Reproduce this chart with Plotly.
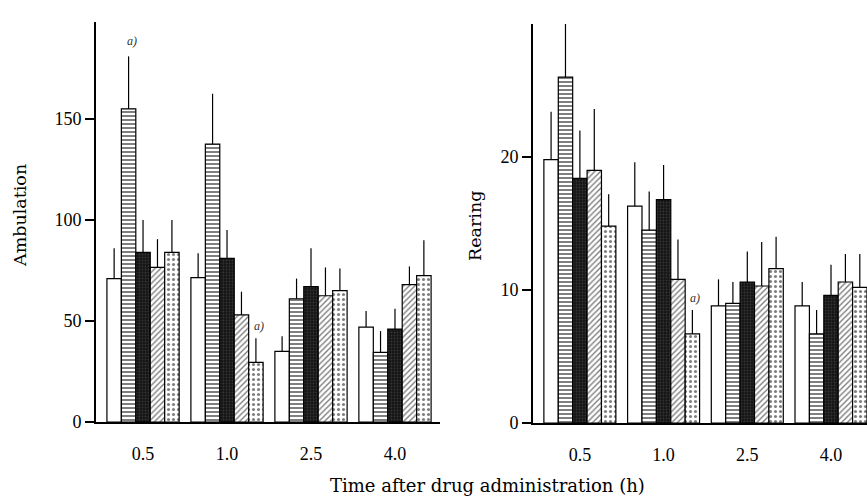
import plotly.graph_objects as go

# ---------------- data ----------------
times = ["0.5", "1.0", "2.5", "4.0"]
groups = ["Group 1", "Group 2", "Group 3", "Group 4", "Group 5"]

amb_g1 = [71, 71.5, 35, 47]
amb_g2 = [155, 137.5, 61, 34.5]
amb_g3 = [84, 81, 67, 46]
amb_g4 = [76.5, 53, 62.5, 68]
amb_g5 = [84, 29.5, 65, 72.5]
amb_e1 = [15, 12, 7.5, 8]
amb_e2 = [26, 25, 10, 10.5]
amb_e3 = [16, 14, 19, 10]
amb_e4 = [14, 11.5, 14, 9]
amb_e5 = [16, 12, 11, 17.5]

rear_g1 = [19.8, 16.3, 8.8, 8.8]
rear_g2 = [26.0, 14.5, 9.0, 6.7]
rear_g3 = [18.4, 16.8, 10.6, 9.6]
rear_g4 = [19.0, 10.8, 10.3, 10.6]
rear_g5 = [14.8, 6.7, 11.6, 10.2]
rear_e1 = [3.6, 3.3, 2.0, 1.8]
rear_e2 = [4.8, 2.9, 1.6, 1.8]
rear_e3 = [3.6, 2.6, 2.3, 2.3]
rear_e4 = [4.6, 3.0, 3.3, 2.1]
rear_e5 = [2.4, 1.8, 2.4, 2.5]

amb_ticks = [0, 50, 100, 150]
rear_ticks = [0, 10, 20]

# ---------------- styles ----------------
W, H = 867, 499
FONT = "Liberation Serif"
TFONT = "DejaVu Serif"
patterns = [
    dict(shape="", bgcolor="white"),
    dict(shape="-", fgcolor="black", bgcolor="white", size=4, solidity=0.5),
    dict(shape=".", fgcolor="#555555", bgcolor="#151515", size=3, solidity=0.3),
    dict(shape="/", fgcolor="black", bgcolor="white", size=4, solidity=0.35),
    dict(shape=".", fgcolor="black", bgcolor="white", size=5, solidity=0.3),
]
colors = ["white", "white", "#151515", "white", "white"]

amb_vals = [amb_g1, amb_g2, amb_g3, amb_g4, amb_g5]
amb_errs = [amb_e1, amb_e2, amb_e3, amb_e4, amb_e5]
rear_vals = [rear_g1, rear_g2, rear_g3, rear_g4, rear_g5]
rear_errs = [rear_e1, rear_e2, rear_e3, rear_e4, rear_e5]


def px_x(x):
    return x / W


def px_y(y):
    return (H - y) / H


fig = go.Figure()


def add_panel(vals, errs, xa, ya):
    for i, (v, e) in enumerate(zip(vals, errs)):
        fig.add_trace(go.Bar(
            x=times, y=v, name=groups[i], xaxis=xa, yaxis=ya,
            marker=dict(color=colors[i], line=dict(color="black", width=1.2),
                        pattern=patterns[i]),
            error_y=dict(type="data", array=e, arrayminus=[0] * len(e),
                         symmetric=False, color="black", thickness=1.2, width=0),
            showlegend=False,
        ))


add_panel(amb_vals, amb_errs, "x", "y")
add_panel(rear_vals, rear_errs, "x2", "y2")

BARGAP = 0.14
bw = (1 - BARGAP) / 5


def offset(i):
    return (i - 2) * bw


ann = []


def sig(panel_vals, panel_errs, series, cat, xref, yref, shift):
    ann.append(dict(
        x=cat + offset(series), y=panel_vals[series][cat] + panel_errs[series][cat],
        xref=xref, yref=yref, text="a)", showarrow=False, yshift=shift,
        xshift=3, xanchor="center", yanchor="middle",
        font=dict(family=FONT, size=12, color="#333", style="italic"),
    ))


sig(amb_vals, amb_errs, 1, 0, "x", "y", 15)
sig(amb_vals, amb_errs, 4, 1, "x", "y", 12)
sig(rear_vals, rear_errs, 4, 1, "x2", "y2", 12)

ann.append(dict(text="Time after drug administration (h)",
                x=px_x(487), y=px_y(485), xref="paper", yref="paper",
                xanchor="center", yanchor="middle",
                showarrow=False, font=dict(family=TFONT, size=18, color="black")))
ann.append(dict(text="Ambulation", x=px_x(20), y=px_y(216), xref="paper",
                yref="paper", textangle=-90, showarrow=False,
                xanchor="center", yanchor="middle",
                font=dict(family=TFONT, size=17.5, color="black")))
ann.append(dict(text="Rearing", x=px_x(475), y=px_y(226), xref="paper",
                yref="paper", textangle=-90, showarrow=False,
                xanchor="center", yanchor="middle",
                font=dict(family=TFONT, size=17.5, color="black")))

xcommon = dict(type="category", showline=True, linecolor="black", linewidth=2,
               ticks="outside", ticklen=14, tickcolor="rgba(0,0,0,0)",
               showgrid=False, zeroline=False, automargin=False,
               tickfont=dict(family=FONT, size=18, color="black"))
ycommon = dict(showline=True, linecolor="black", linewidth=2, ticks="outside",
               ticklen=9, tickwidth=1.5, tickcolor="black", showgrid=False,
               zeroline=False, automargin=False,
               tickfont=dict(family=FONT, size=18, color="black"))

fig.update_layout(
    width=W, height=H,
    margin=dict(l=0, r=0, t=0, b=0),
    paper_bgcolor="white", plot_bgcolor="white",
    barmode="group", bargap=BARGAP, bargroupgap=0,
    xaxis=dict(domain=[px_x(96), px_x(440)], range=[-0.56, 3.536],
               anchor="y", **xcommon),
    yaxis=dict(domain=[px_y(422), px_y(22)], range=[0, 198],
               tickvals=amb_ticks, anchor="x", **ycommon),
    xaxis2=dict(domain=[px_x(533), 1.0], range=[-0.56, 3.43],
                anchor="y2", **xcommon),
    yaxis2=dict(domain=[px_y(423), px_y(24)], range=[0, 30],
                tickvals=rear_ticks, anchor="x2", **ycommon),
    annotations=ann,
)

fig.write_html(
    "out.html",
    config={"displayModeBar": False},
    post_script="document.body.style.margin='0';document.body.style.overflow='hidden';",
)
